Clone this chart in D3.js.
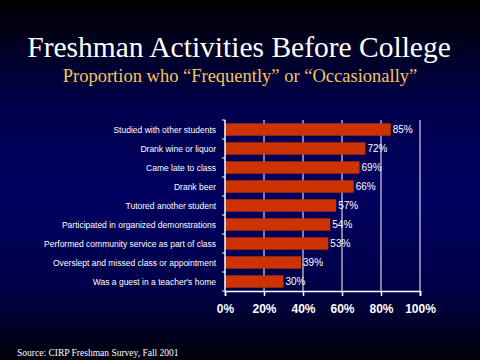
<!DOCTYPE html>
<html><head><meta charset="utf-8">
<script src="https://cdn.jsdelivr.net/npm/d3@7"></script>
<style>html,body{margin:0;padding:0;background:#000;}svg{display:block;}</style>
</head><body>
<script>
const categories = ["Studied with other students","Drank wine or liquor","Came late to class","Drank beer","Tutored another student","Participated in organized demonstrations","Performed community service as part of class","Overslept and missed class or appointment","Was a guest in a teacher's home"];
const values = [85,72,69,66,57,54,53,39,30];
const xTicks = [0,20,40,60,80,100];

const W=480,H=360;
const svg=d3.select("body").append("svg").attr("width",W).attr("height",H);
const defs=svg.append("defs");
const g=defs.append("linearGradient").attr("id","bg").attr("x1",0).attr("y1",0).attr("x2",0).attr("y2",1);
[[0,"#000000"],[0.3,"#00004e"],[0.55,"#000060"],[0.8,"#000048"],[1,"#00000a"]].forEach(([o,c])=>g.append("stop").attr("offset",o).attr("stop-color",c));
svg.append("rect").attr("width",W).attr("height",H).attr("fill","url(#bg)");

svg.append("text").attr("x",239).attr("y",57).attr("text-anchor","middle").attr("fill","#fff")
 .attr("font-family","Liberation Serif").attr("font-size",29.5).text("Freshman Activities Before College");
svg.append("text").attr("x",240).attr("y",82).attr("text-anchor","middle").attr("fill","#F5C55A")
 .attr("font-family","Liberation Serif").attr("font-size",18.5).text("Proportion who \u201cFrequently\u201d or \u201cOccasionally\u201d");
svg.append("text").attr("x",17).attr("y",356).attr("fill","#fff")
 .attr("font-family","Liberation Serif").attr("font-size",9.5).text("Source:  CIRP Freshman Survey, Fall 2001");

const pL=225,pR=420,pT=120,pB=291;
const x=d3.scaleLinear().domain([0,100]).range([pL,pR]);
const y=d3.scaleBand().domain(categories).range([pT,pB]).paddingInner(0.35).paddingOuter(0.175);

// gridlines
svg.append("g").selectAll("line").data(xTicks.slice(1)).join("line")
 .attr("x1",d=>x(d)).attr("x2",d=>x(d)).attr("y1",pT).attr("y2",pB)
 .attr("stroke","#fff").attr("stroke-width",1);

svg.append("g").selectAll("rect").data(values).join("rect")
 .attr("x",x(0)).attr("y",(d,i)=>y(categories[i])).attr("width",d=>x(d)-x(0)).attr("height",y.bandwidth())
 .attr("fill","#CC3300");

svg.append("g").selectAll("text").data(values).join("text")
 .attr("x",d=>x(d)+2).attr("y",(d,i)=>y(categories[i])+y.bandwidth()/2+3.5)
 .attr("fill","#fff").attr("font-family","Liberation Sans").attr("font-size",10).text(d=>d+"%");

// y axis
const yAxisG=svg.append("g");
yAxisG.append("line").attr("x1",pL).attr("x2",pL).attr("y1",pT).attr("y2",pB).attr("stroke","#fff").attr("stroke-width",1.5);
d3.range(categories.length+1).forEach(i=>{
  const yy=pT+i*(pB-pT)/categories.length;
  yAxisG.append("line").attr("x1",pL-3).attr("x2",pL).attr("y1",yy).attr("y2",yy).attr("stroke","#fff");
});
yAxisG.selectAll("text.cat").data(categories).join("text").attr("class","cat")
 .attr("x",pL-9).attr("y",d=>y(d)+y.bandwidth()/2+3).attr("text-anchor","end")
 .attr("fill","#fff").attr("font-family","Liberation Sans").attr("font-size",8.5).text(d=>d);

// x axis
const xAxis=d3.axisBottom(x).tickValues(xTicks).tickFormat(d=>d+"%").tickSize(5).tickPadding(8);
const xg=svg.append("g").attr("transform",`translate(0,${pB})`).call(xAxis);
xg.select(".domain").attr("stroke","#fff").attr("stroke-width",1.5);
xg.selectAll(".tick line").attr("stroke","#fff").attr("stroke-width",1.5);
xg.selectAll(".tick text").attr("fill","#fff").attr("font-family","Liberation Sans").attr("font-weight","bold").attr("font-size",12);
</script>
</body></html>
